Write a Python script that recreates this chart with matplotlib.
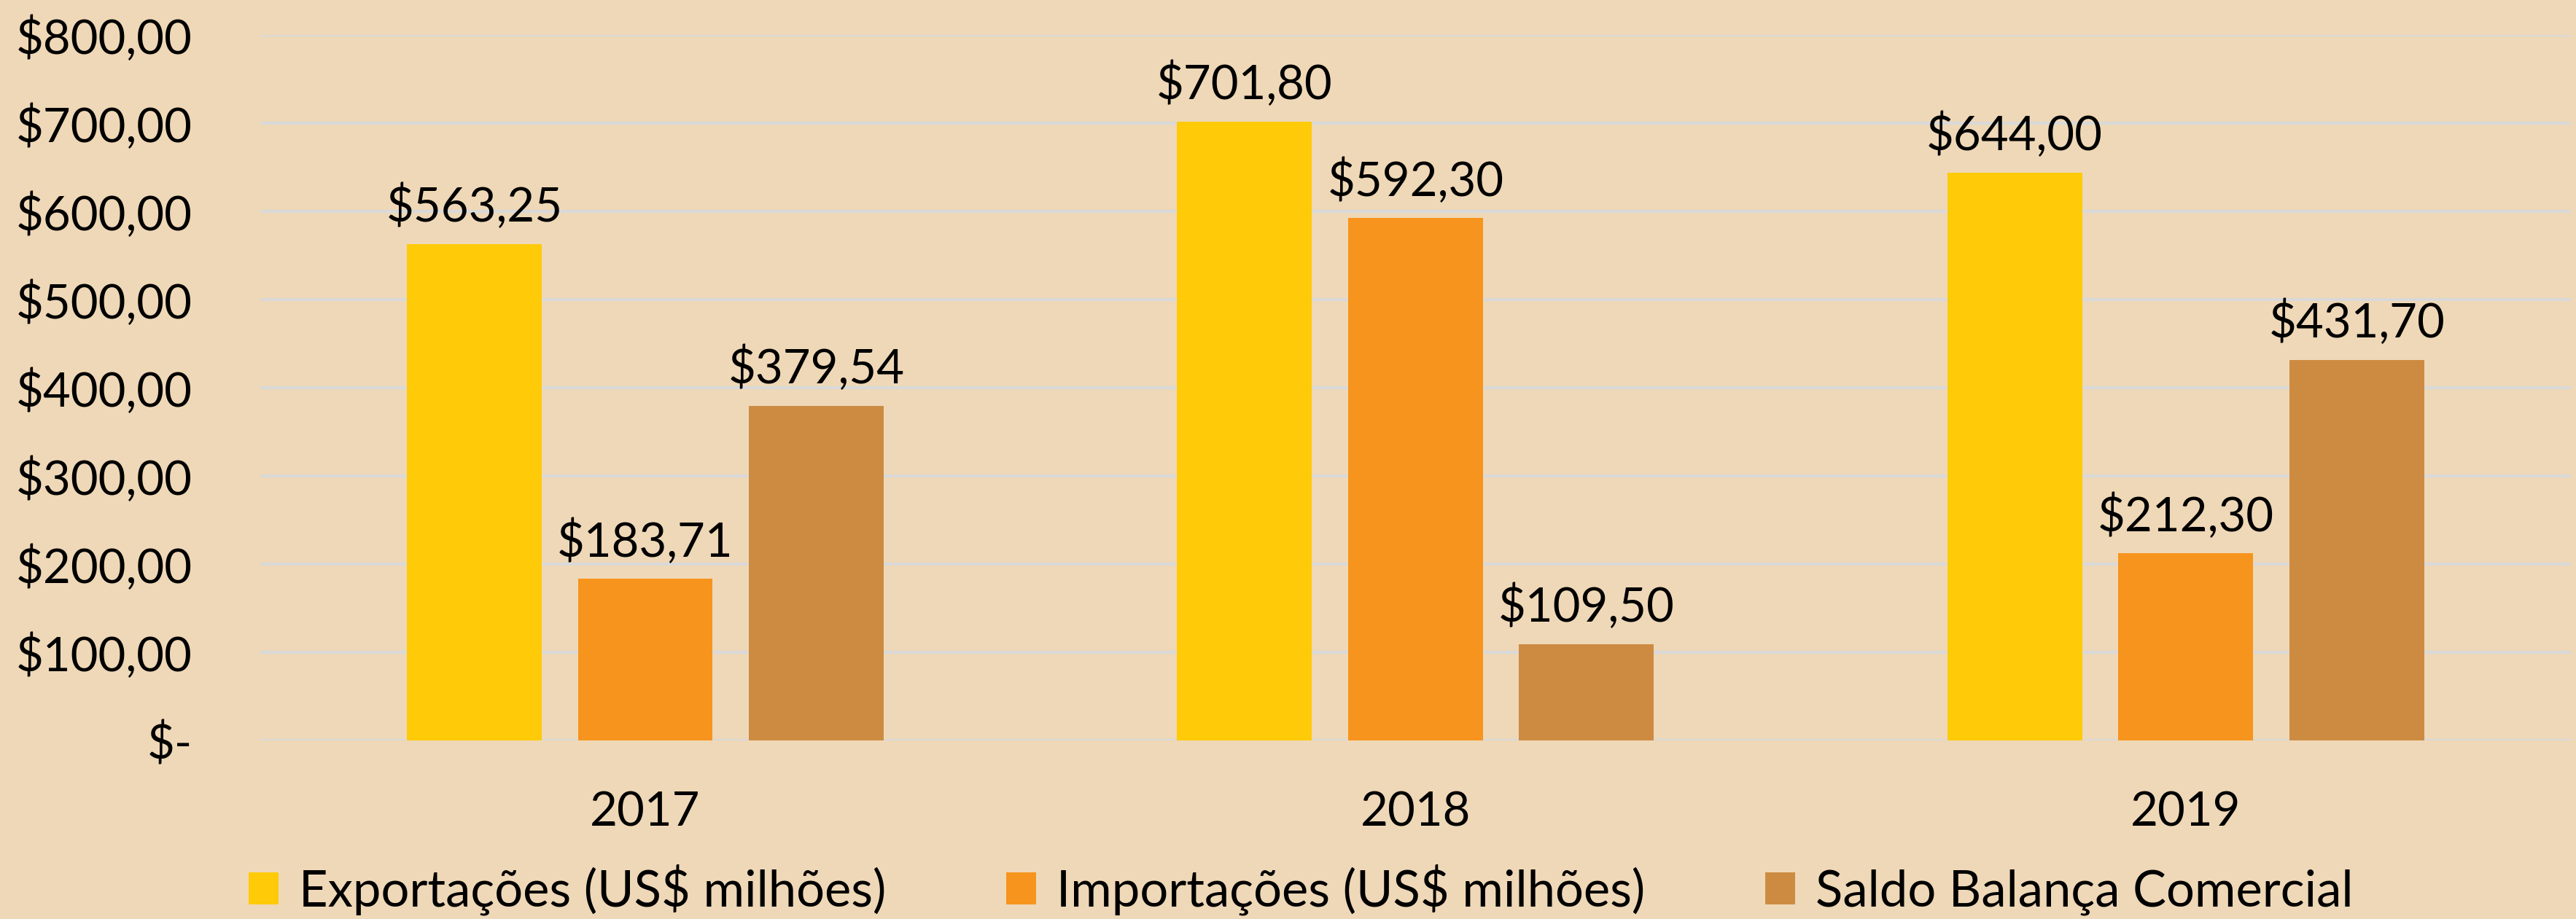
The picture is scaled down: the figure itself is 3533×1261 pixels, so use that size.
import matplotlib.pyplot as plt
import numpy as np

anos = ["2017", "2018", "2019"]
exportacoes = [563.25, 701.80, 644.00]
importacoes = [183.71, 592.30, 212.30]
saldo = [379.54, 109.50, 431.70]
series_nomes = ["Exportações (US$ milhões)", "Importações (US$ milhões)", "Saldo Balança Comercial"]
rotulos = [["$563,25", "$701,80", "$644,00"],
           ["$183,71", "$592,30", "$212,30"],
           ["$379,54", "$109,50", "$431,70"]]
y_ticks = [0, 100, 200, 300, 400, 500, 600, 700, 800]
y_labels = ["$-", "$100,00", "$200,00", "$300,00", "$400,00", "$500,00", "$600,00", "$700,00", "$800,00"]

cores = ["#FFCA08", "#F7941D", "#CD8B42"]
fundo = "#EFD8B7"

plt.rcParams['font.family'] = ['Lato', 'DejaVu Sans']
fs = 47

fig = plt.figure(figsize=(35.33, 12.61), dpi=100, facecolor=fundo)
ax = fig.add_axes([0.101, 0.194, 0.897, 0.768])
ax.set_facecolor(fundo)

x = np.arange(len(anos))
largura = 0.175
desloc = 0.222
valores = [exportacoes, importacoes, saldo]
for i, (vals, cor, nome) in enumerate(zip(valores, cores, series_nomes)):
    pos = x + (i - 1) * desloc
    ax.bar(pos, vals, width=largura, color=cor, label=nome, zorder=3)
    for p, v, t in zip(pos, vals, rotulos[i]):
        ax.text(p, v + 16, t, ha='center', va='bottom', fontsize=fs, color='black', zorder=4)

ax.set_xlim(-0.5, 2.5)
ax.set_ylim(0, 800)
ax.set_yticks(y_ticks)
ax.set_yticklabels(y_labels)
ax.set_xticks(x)
ax.set_xticklabels(anos)
ax.tick_params(axis='both', length=0, labelsize=fs)
ax.tick_params(axis='y', pad=67)
ax.tick_params(axis='x', pad=50)
ax.yaxis.grid(True, color='#D9D9D9', linewidth=3, zorder=0)
for s in ax.spines.values():
    s.set_visible(False)

handles, labels = ax.get_legend_handles_labels()
fig.legend(handles, labels, loc='lower center', bbox_to_anchor=(0.505, -0.045), ncol=3,
           frameon=False, fontsize=49.5, handlelength=0.6, handleheight=0.6,
           handletextpad=0.4, columnspacing=2.4)

plt.savefig("out.png", dpi=100, facecolor=fundo)
